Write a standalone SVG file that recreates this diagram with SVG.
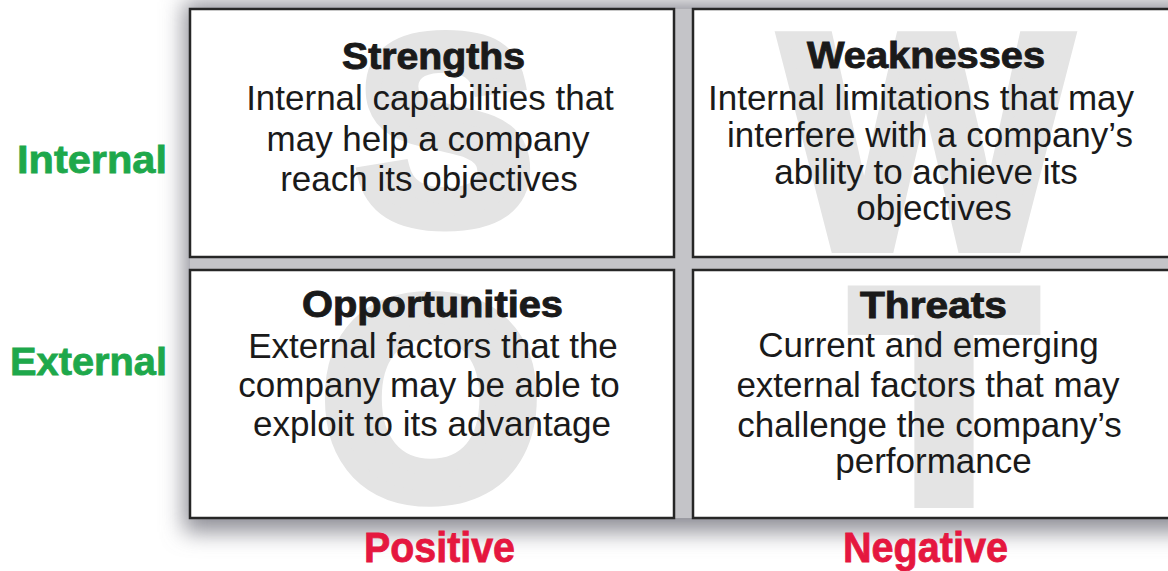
<svg xmlns="http://www.w3.org/2000/svg" width="1168" height="571" viewBox="0 0 1168 571">
<style>
.box{fill:#ffffff;stroke:#262626;stroke-width:2.5}
.big{font-family:"Liberation Sans",Arial,sans-serif;font-weight:bold;fill:#e4e4e4;stroke:#e4e4e4;stroke-linejoin:miter;text-anchor:middle}
.title{font-family:"Liberation Sans",Arial,sans-serif;font-weight:bold;font-size:36px;fill:#1a1a1a;stroke:#1a1a1a;stroke-width:0.9;text-anchor:middle}
.body{font-family:"Liberation Sans",Arial,sans-serif;font-size:35px;fill:#1a1a1a;text-anchor:middle}
.green{font-family:"Liberation Sans",Arial,sans-serif;font-weight:bold;font-size:38px;fill:#1ea84b;stroke:#1ea84b;stroke-width:0.8;text-anchor:end}
.red{font-family:"Liberation Sans",Arial,sans-serif;font-weight:bold;font-size:42px;fill:#e5173f;stroke:#e5173f;stroke-width:0.8;text-anchor:middle}
</style>
<defs>
<filter id="soft" x="-10%" y="-20%" width="130%" height="150%"><feGaussianBlur stdDeviation="11"/></filter>
</defs>
<rect width="1168" height="571" fill="#ffffff"/>
<g id="shadow">
<rect x="184" y="2" width="1010" height="530" fill="#8f8f97" filter="url(#soft)"/>
<rect x="190" y="9" width="990" height="509" fill="#c4c4c8"/>
</g>
<g id="connectors"/>
<g id="strengths">
<rect class="box" x="190" y="9" width="484" height="248"/>
<text class="big" x="445" y="221" font-size="262" stroke-width="16">S</text>
<text class="title" x="433.5" y="69" textLength="183" lengthAdjust="spacingAndGlyphs">Strengths</text>
<text class="body" x="430" y="110">Internal capabilities that</text>
<text class="body" x="428" y="151">may help a company</text>
<text class="body" x="429" y="191">reach its objectives</text>
</g>
<g id="weaknesses">
<rect class="box" x="693" y="9" width="482" height="248"/>
<text class="big" x="926" y="247" font-size="305" stroke-width="12">W</text>
<text class="title" x="926" y="68" textLength="238" lengthAdjust="spacingAndGlyphs">Weaknesses</text>
<text class="body" x="921" y="110">Internal limitations that may</text>
<text class="body" x="930" y="147">interfere with a company’s</text>
<text class="body" x="926" y="184">ability to achieve its</text>
<text class="body" x="934" y="220">objectives</text>
</g>
<g id="opportunities">
<rect class="box" x="190" y="270" width="484" height="248"/>
<text class="big" x="431" y="496" font-size="282" stroke-width="16">O</text>
<text class="title" x="432.5" y="317" textLength="261" lengthAdjust="spacingAndGlyphs">Opportunities</text>
<text class="body" x="433" y="358">External factors that the</text>
<text class="body" x="429" y="397">company may be able to</text>
<text class="body" x="432" y="436">exploit to its advantage</text>
</g>
<g id="threats">
<rect class="box" x="693" y="270" width="482" height="248"/>
<text class="big" x="944" y="500" font-size="300" stroke-width="16">T</text>
<text class="title" x="933.5" y="318" textLength="147" lengthAdjust="spacingAndGlyphs">Threats</text>
<text class="body" x="928.5" y="357">Current and emerging</text>
<text class="body" x="928" y="397">external factors that may</text>
<text class="body" x="929.5" y="437">challenge the company’s</text>
<text class="body" x="933.5" y="473">performance</text>
</g>
<g id="axis-labels">
<text class="green" x="167" y="173" textLength="150" lengthAdjust="spacingAndGlyphs">Internal</text>
<text class="green" x="167" y="375" textLength="157" lengthAdjust="spacingAndGlyphs">External</text>
<text class="red" x="439.5" y="562" textLength="151" lengthAdjust="spacingAndGlyphs">Positive</text>
<text class="red" x="925.5" y="562" textLength="165" lengthAdjust="spacingAndGlyphs">Negative</text>
</g>
</svg>
